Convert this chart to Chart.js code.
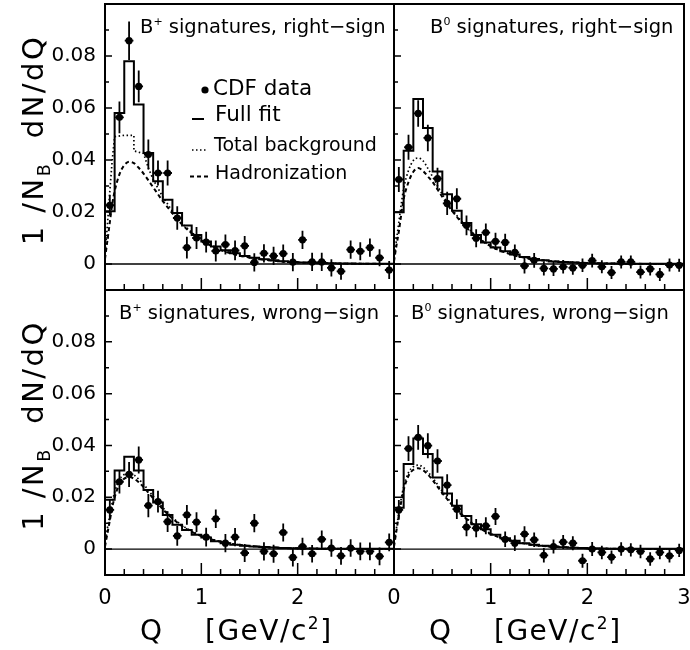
<!DOCTYPE html>
<html>
<head>
<meta charset="utf-8">
<script src="https://cdn.jsdelivr.net/npm/chart.js@4.4.1/dist/chart.umd.min.js"></script>
<style>
  html, body { margin: 0; padding: 0; background: #fff; }
  #wrap { position: relative; width: 690px; height: 650px; }
  #wrap canvas { position: absolute; left: 0; top: 0; }
</style>
</head>
<body>
<div id="wrap">
  <canvas id="c1" width="690" height="650"></canvas>
  <canvas id="c2" width="690" height="650"></canvas>
  <canvas id="c3" width="690" height="650"></canvas>
  <canvas id="c4" width="690" height="650"></canvas>
</div>
<script>
// ==========================================
// Q distributions, 0.1 GeV/c^2 bins
// ==========================================
const binCenters = [0.05, 0.15, 0.25, 0.35, 0.45, 0.55, 0.65, 0.75, 0.85, 0.95,
                    1.05, 1.15, 1.25, 1.35, 1.45, 1.55, 1.65, 1.75, 1.85, 1.95,
                    2.05, 2.15, 2.25, 2.35, 2.45, 2.55, 2.65, 2.75, 2.85, 2.95];
const binEdges = [0, 0.1, 0.2, 0.3, 0.4, 0.5, 0.6, 0.7, 0.8, 0.9, 1.0,
                  1.1, 1.2, 1.3, 1.4, 1.5, 1.6, 1.7, 1.8, 1.9, 2.0,
                  2.1, 2.2, 2.3, 2.4, 2.5, 2.6, 2.7, 2.8, 2.9, 3.0];
const curveQ = [0, 0.025, 0.05, 0.075, 0.1, 0.15, 0.2, 0.25, 0.3, 0.35, 0.4, 0.5,
                0.6, 0.7, 0.8, 0.9, 1.0, 1.2, 1.4, 1.6, 1.8, 2.0, 2.4, 3.0];

const xTickLabels = ["0", "1", "2", "3"];
const yTickLabels = ["0", "0.02", "0.04", "0.06", "0.08"];

// B+ right-sign
const bPlusRightData = [0.0226, 0.0564, 0.0859, 0.0683, 0.0421, 0.0350, 0.0350, 0.0177, 0.0063, 0.0100,
                        0.0084, 0.0050, 0.0075, 0.0052, 0.0070, 0.0006, 0.0041, 0.0031, 0.0040, 0.0007,
                        0.0093, 0.0008, 0.0008, -0.0015, -0.0028, 0.0055, 0.0049, 0.0063, 0.0024, -0.0023];
const bPlusRightErr = [0.0040, 0.0061, 0.0074, 0.0061, 0.0058, 0.0048, 0.0048, 0.0045, 0.0042, 0.0042,
                       0.0040, 0.0040, 0.0038, 0.0038, 0.0038, 0.0035, 0.0035, 0.0035, 0.0035, 0.0035,
                       0.0035, 0.0035, 0.0035, 0.0033, 0.0033, 0.0035, 0.0035, 0.0035, 0.0033, 0.0035];
const bPlusRightFit = [0.0203, 0.0581, 0.0780, 0.0613, 0.0427, 0.0318, 0.0247, 0.0196, 0.0148, 0.0112,
                       0.0087, 0.0067, 0.0053, 0.0041, 0.0031, 0.0024, 0.0018, 0.0014, 0.0011, 0.0008,
                       0.0006, 0.0005, 0.0004, 0.0003, 0.0002, 0.0002, 0.0001, 0.0001, 0.0001, 0.0001];
const bPlusRightBgQ = [0, 0.025, 0.05, 0.075, 0.1, 0.2, 0.3, 0.3, 0.4, 0.45, 0.5, 0.6,
                       0.7, 0.8, 0.9, 1.0, 1.2, 1.4, 1.6, 1.8, 2.0, 2.4, 3.0];
const bPlusRightBg = [0.003, 0.015, 0.028, 0.040, 0.049, 0.0495, 0.0495, 0.0435, 0.0425, 0.037, 0.0325, 0.0258,
                      0.0203, 0.0157, 0.0121, 0.0093, 0.0055, 0.0033, 0.0019, 0.0011, 0.0006, 0.0002, 0.0];
const bPlusRightHad = [0.002, 0.009, 0.016, 0.023, 0.028, 0.0345, 0.038, 0.0393, 0.0388, 0.037, 0.0348, 0.0295,
                       0.0242, 0.0195, 0.0152, 0.0118, 0.0091, 0.0054, 0.0032, 0.0019, 0.0011, 0.0006, 0.0002, 0.0];

// B0 right-sign
const bZeroRightData = [0.0325, 0.0449, 0.0579, 0.0485, 0.0328, 0.0233, 0.0251, 0.0149, 0.0099, 0.0121,
                        0.0087, 0.0083, 0.0045, -0.0007, 0.0014, -0.0017, -0.0019, -0.0011, -0.0015, -0.0005,
                        0.0013, -0.0011, -0.0033, 0.0008, 0.0008, -0.0031, -0.0019, -0.0040, -0.0004, -0.0005];
const bZeroRightErr = [0.0048, 0.0048, 0.0051, 0.0051, 0.0042, 0.0045, 0.0040, 0.0038, 0.0035, 0.0035,
                       0.0033, 0.0033, 0.0030, 0.0030, 0.0028, 0.0027, 0.0027, 0.0026, 0.0026, 0.0026,
                       0.0026, 0.0025, 0.0025, 0.0025, 0.0025, 0.0025, 0.0025, 0.0025, 0.0025, 0.0025];
const bZeroRightFit = [0.0199, 0.0436, 0.0635, 0.0523, 0.0356, 0.0268, 0.0205, 0.0158, 0.0112, 0.0083,
                       0.0063, 0.0049, 0.0037, 0.0027, 0.0019, 0.0014, 0.0010, 0.0008, 0.0006, 0.0004,
                       0.0003, 0.0002, 0.0002, 0.0001, 0.0001, 0.0001, 0.0001, 0.0001, 0.0001, 0.0001];
const bZeroRightBg = [0.002, 0.009, 0.016, 0.023, 0.029, 0.036, 0.0398, 0.0408, 0.0397, 0.0368, 0.0335, 0.0268,
                      0.0211, 0.0164, 0.0125, 0.0094, 0.0070, 0.0039, 0.0022, 0.0012, 0.0007, 0.0004, 0.0001, 0.0];
const bZeroRightHad = [0.001, 0.007, 0.0125, 0.019, 0.025, 0.0315, 0.0355, 0.0369, 0.0358, 0.0337, 0.0315, 0.0258,
                       0.0205, 0.0160, 0.0122, 0.0092, 0.0068, 0.0038, 0.0021, 0.0012, 0.0007, 0.0004, 0.0001, 0.0];

// B+ wrong-sign
const bPlusWrongData = [0.0151, 0.0260, 0.0288, 0.0344, 0.0168, 0.0183, 0.0106, 0.0051, 0.0132, 0.0104,
                        0.0046, 0.0117, 0.0023, 0.0046, -0.0015, 0.0100, -0.0009, -0.0018, 0.0064, -0.0032,
                        0.0010, -0.0018, 0.0038, 0.0004, -0.0026, 0.0004, -0.0009, -0.0009, -0.0028, 0.0026];
const bPlusWrongErr = [0.0040, 0.0045, 0.0048, 0.0052, 0.0045, 0.0042, 0.0040, 0.0038, 0.0038, 0.0038,
                       0.0036, 0.0036, 0.0035, 0.0035, 0.0035, 0.0035, 0.0035, 0.0035, 0.0035, 0.0035,
                       0.0034, 0.0034, 0.0034, 0.0034, 0.0034, 0.0034, 0.0034, 0.0034, 0.0034, 0.0034];
const bPlusWrongFit = [0.0190, 0.0303, 0.0356, 0.0303, 0.0228, 0.0180, 0.0132, 0.0094, 0.0074, 0.0055,
                       0.0045, 0.0030, 0.0023, 0.0017, 0.0013, 0.0010, 0.0008, 0.0006, 0.0004, 0.0003,
                       0.0002, 0.0002, 0.0001, 0.0001, 0.0001, 0.0001, 0.0001, 0.0001, 0.0001, 0.0001];
const bPlusWrongBg = [0.002, 0.008, 0.013, 0.018, 0.022, 0.0268, 0.0288, 0.0293, 0.0286, 0.027, 0.025, 0.0204,
                      0.0160, 0.0122, 0.0092, 0.0069, 0.0052, 0.0029, 0.0016, 0.0009, 0.0005, 0.0003, 0.0001, 0.0];
const bPlusWrongHad = [0.001, 0.006, 0.011, 0.016, 0.020, 0.025, 0.0272, 0.0278, 0.0272, 0.0258, 0.0239, 0.0196,
                       0.0154, 0.0118, 0.0089, 0.0067, 0.0050, 0.0028, 0.0016, 0.0009, 0.0005, 0.0003, 0.0001, 0.0];

// B0 wrong-sign
const bZeroWrongData = [0.0151, 0.0388, 0.0431, 0.0399, 0.0340, 0.0247, 0.0154, 0.0085, 0.0081, 0.0090,
                        0.0126, 0.0038, 0.0023, 0.0058, 0.0036, -0.0024, 0.0010, 0.0027, 0.0023, -0.0045,
                        0.0000, -0.0013, -0.0031, 0.0000, -0.0003, -0.0009, -0.0038, -0.0013, -0.0026, -0.0005];
const bZeroWrongErr = [0.0038, 0.0048, 0.0048, 0.0048, 0.0045, 0.0042, 0.0038, 0.0035, 0.0035, 0.0033,
                       0.0033, 0.0030, 0.0030, 0.0030, 0.0028, 0.0028, 0.0027, 0.0027, 0.0027, 0.0027,
                       0.0027, 0.0026, 0.0026, 0.0026, 0.0026, 0.0026, 0.0026, 0.0026, 0.0026, 0.0026];
const bZeroWrongFit = [0.0160, 0.0328, 0.0427, 0.0367, 0.0276, 0.0215, 0.0167, 0.0128, 0.0096, 0.0077,
                       0.0055, 0.0042, 0.0032, 0.0023, 0.0017, 0.0013, 0.0010, 0.0007, 0.0005, 0.0004,
                       0.0003, 0.0002, 0.0001, 0.0001, 0.0001, 0.0001, 0.0001, 0.0001, 0.0001, 0.0001];
const bZeroWrongBg = [0.002, 0.008, 0.014, 0.0195, 0.024, 0.0295, 0.0318, 0.0324, 0.0316, 0.0298, 0.0275, 0.0223,
                      0.0176, 0.0136, 0.0104, 0.0079, 0.0060, 0.0034, 0.0019, 0.0011, 0.0006, 0.0003, 0.0001, 0.0];
const bZeroWrongHad = [0.001, 0.007, 0.013, 0.0183, 0.0228, 0.0283, 0.0306, 0.0312, 0.0305, 0.0288, 0.0266, 0.0216,
                       0.0171, 0.0132, 0.0101, 0.0077, 0.0058, 0.0033, 0.0018, 0.0010, 0.0006, 0.0003, 0.0001, 0.0];

// ==========================================
// Layout / style
// ==========================================
const FONT = "'DejaVu Sans', 'Liberation Sans', sans-serif";
const Y_AXIS_W = 105;
const X_AXIS_H = 75;
const HALF_BIN = 0.045;

const panels = [
    { id: "c1", box: { l: 105, t: 4, r: 394, b: 290 }, showX: false, showY: true, legend: true, lastX: 2,
      data: bPlusRightData, err: bPlusRightErr, fit: bPlusRightFit,
      bgQ: bPlusRightBgQ, bg: bPlusRightBg, had: bPlusRightHad, smoothBg: false,
      label: { sup: "+", rest: " signatures, right\u2212sign", x: 140, y: 33 } },
    { id: "c2", box: { l: 394, t: 4, r: 684, b: 290 }, showX: false, showY: false, legend: false, lastX: 3,
      data: bZeroRightData, err: bZeroRightErr, fit: bZeroRightFit,
      bgQ: curveQ, bg: bZeroRightBg, had: bZeroRightHad, smoothBg: true,
      label: { sup: "0", rest: " signatures, right\u2212sign", x: 430, y: 33 } },
    { id: "c3", box: { l: 105, t: 290, r: 394, b: 575 }, showX: true, showY: true, legend: false, lastX: 2,
      data: bPlusWrongData, err: bPlusWrongErr, fit: bPlusWrongFit,
      bgQ: curveQ, bg: bPlusWrongBg, had: bPlusWrongHad, smoothBg: true,
      label: { sup: "+", rest: " signatures, wrong\u2212sign", x: 119, y: 319 } },
    { id: "c4", box: { l: 394, t: 290, r: 684, b: 575 }, showX: true, showY: false, legend: false, lastX: 3,
      data: bZeroWrongData, err: bZeroWrongErr, fit: bZeroWrongFit,
      bgQ: curveQ, bg: bZeroWrongBg, had: bZeroWrongHad, smoothBg: true,
      label: { sup: "0", rest: " signatures, wrong\u2212sign", x: 411, y: 319 } }
];

// ==========================================
// Text helpers
// ==========================================
function drawRuns(ctx, runs, x, y) {
    // runs: [{t, size, dy}] drawn left to right from (x, y)
    let cx = x;
    runs.forEach(r => {
        ctx.font = `${r.size}px ${FONT}`;
        ctx.fillText(r.t, cx, y + (r.dy || 0));
        cx += ctx.measureText(r.t).width;
    });
    return cx;
}

function runsWidth(ctx, runs) {
    let w = 0;
    runs.forEach(r => {
        ctx.font = `${r.size}px ${FONT}`;
        w += ctx.measureText(r.t).width;
    });
    return w;
}

// ==========================================
// Frame, ticks, error bars, labels
// ==========================================
const panelDecor = {
    id: "panelDecor",
    beforeDatasetsDraw(chart) {
        const { ctx, chartArea: a, scales: { y } } = chart;
        const y0 = y.getPixelForValue(0);
        ctx.save();
        ctx.strokeStyle = "#000";
        ctx.lineWidth = 1.3;
        ctx.beginPath();
        ctx.moveTo(a.left, y0);
        ctx.lineTo(a.right, y0);
        ctx.stroke();
        ctx.restore();
    },
    afterDatasetsDraw(chart, args, opts) {
        const { ctx, chartArea: a, scales: { x, y } } = chart;
        const p = opts.panel;

        // error bars
        ctx.save();
        ctx.beginPath();
        ctx.rect(a.left, a.top, a.right - a.left, a.bottom - a.top);
        ctx.clip();
        ctx.strokeStyle = "#000";
        ctx.lineWidth = 1.8;
        p.data.forEach((v, i) => {
            const q = binCenters[i];
            const e = p.err[i];
            const px = x.getPixelForValue(q);
            const py = y.getPixelForValue(v);
            ctx.beginPath();
            ctx.moveTo(px, y.getPixelForValue(v - e));
            ctx.lineTo(px, y.getPixelForValue(v + e));
            ctx.moveTo(x.getPixelForValue(q - HALF_BIN), py);
            ctx.lineTo(x.getPixelForValue(q + HALF_BIN), py);
            ctx.stroke();
        });
        ctx.restore();

        // inward tick marks
        ctx.save();
        ctx.strokeStyle = "#000";
        ctx.lineWidth = 1.5;
        ctx.beginPath();
        x.ticks.forEach(t => {
            const px = x.getPixelForValue(t.value);
            const major = Math.abs(t.value - Math.round(t.value)) < 1e-6;
            ctx.moveTo(px, a.bottom);
            ctx.lineTo(px, a.bottom - (major ? 12 : 6));
        });
        y.ticks.forEach(t => {
            const py = y.getPixelForValue(t.value);
            const major = Math.round(t.value * 100) % 2 === 0;
            ctx.moveTo(a.left, py);
            ctx.lineTo(a.left + (major ? 7 : 4), py);
        });
        ctx.stroke();

        // frame
        ctx.lineWidth = 2;
        ctx.strokeRect(a.left, a.top, a.right - a.left, a.bottom - a.top);
        ctx.restore();
    },
    afterDraw(chart, args, opts) {
        const { ctx, chartArea: a } = chart;
        const p = opts.panel;
        ctx.save();
        ctx.fillStyle = "#000";
        ctx.textBaseline = "alphabetic";
        ctx.textAlign = "left";

        // panel label, e.g. B+ signatures, right-sign
        const L = p.label;
        drawRuns(ctx, [
            { t: "B", size: 19.5 },
            { t: L.sup, size: 11, dy: -8 },
            { t: L.rest, size: 19.5 }
        ], L.x, L.y);

        if (p.legend) {
            ctx.strokeStyle = "#000";
            ctx.beginPath();
            ctx.arc(205, 90, 3.6, 0, Math.PI * 2);
            ctx.fill();
            ctx.font = `21.5px ${FONT}`;
            ctx.fillText("CDF data", 213, 95);

            ctx.lineWidth = 2;
            ctx.beginPath();
            ctx.moveTo(192, 119); ctx.lineTo(204, 119);
            ctx.stroke();
            ctx.fillText("Full fit", 215, 121);

            ctx.lineWidth = 1.6;
            ctx.setLineDash([1.5, 2.5]);
            ctx.beginPath();
            ctx.moveTo(192, 150); ctx.lineTo(207, 150);
            ctx.stroke();
            ctx.setLineDash([4, 3]);
            ctx.lineWidth = 2;
            ctx.beginPath();
            ctx.moveTo(190, 176.5); ctx.lineTo(208, 176.5);
            ctx.stroke();
            ctx.setLineDash([]);
            ctx.font = `19px ${FONT}`;
            ctx.fillText("Total background", 214, 151);
            ctx.fillText("Hadronization", 215, 179);
        }

        // y axis title: 1/N_B dN/dQ
        if (p.showY) {
            const runs = [
                { t: "1 /N", size: 29 },
                { t: "B", size: 17.5, dy: 7 },
                { t: "  dN/dQ", size: 29 }
            ];
            ctx.save();
            ctx.translate(43, (a.top + a.bottom) / 2 - 7);
            ctx.rotate(-Math.PI / 2);
            if ("letterSpacing" in ctx) ctx.letterSpacing = "2.5px";
            drawRuns(ctx, runs, -runsWidth(ctx, runs) / 2, 0);
            ctx.restore();
        }

        // x axis title: Q [GeV/c^2]
        if (p.showX) {
            if ("letterSpacing" in ctx) ctx.letterSpacing = "1.5px";
            ctx.font = `28px ${FONT}`;
            ctx.fillText("Q", a.left + 35, 640);
            drawRuns(ctx, [
                { t: "[GeV/c", size: 28 },
                { t: "2", size: 17, dy: -11 },
                { t: "]", size: 28 }
            ], a.left + 100, 640);
        }
        ctx.restore();
    }
};

// ==========================================
// Build the four panels
// ==========================================
function buildPanel(p) {
    const fitPoints = binEdges.map((e, i) => ({ x: e, y: p.fit[Math.max(i - 1, 0)] }));
    const dataPoints = binCenters.map((q, i) => ({ x: q, y: p.data[i] }));
    const bgPoints = p.bgQ.map((q, i) => ({ x: q, y: p.bg[i] }));
    const hadPoints = curveQ.map((q, i) => ({ x: q, y: p.had[i] }));

    const pad = {
        left: p.showY ? p.box.l - Y_AXIS_W : p.box.l,
        top: p.box.t,
        right: 690 - p.box.r,
        bottom: p.showX ? 650 - p.box.b - X_AXIS_H : 650 - p.box.b
    };

    return new Chart(document.getElementById(p.id), {
        type: "line",
        data: {
            datasets: [
                {
                    type: "scatter",
                    label: "CDF data",
                    data: dataPoints,
                    showLine: false,
                    pointRadius: 3.6,
                    pointBackgroundColor: "#000",
                    pointBorderWidth: 0
                },
                {
                    // each edge carries the level of the bin to its left
                    label: "Full fit",
                    data: fitPoints,
                    stepped: "after",
                    borderColor: "#000",
                    borderWidth: 2,
                    pointRadius: 0,
                    fill: false
                },
                {
                    label: "Total background",
                    data: bgPoints,
                    borderColor: "#000",
                    borderWidth: 1.7,
                    borderDash: [1.5, 2.5],
                    pointRadius: 0,
                    fill: false,
                    cubicInterpolationMode: p.smoothBg ? "monotone" : "default",
                    tension: 0
                },
                {
                    label: "Hadronization",
                    data: hadPoints,
                    borderColor: "#000",
                    borderWidth: 2,
                    borderDash: [4, 3],
                    pointRadius: 0,
                    fill: false,
                    cubicInterpolationMode: "monotone"
                }
            ]
        },
        options: {
            responsive: false,
            animation: false,
            events: [],
            layout: { padding: pad, autoPadding: false },
            plugins: {
                legend: { display: false },
                tooltip: { enabled: false },
                panelDecor: { panel: p }
            },
            scales: {
                x: {
                    type: "linear",
                    min: 0,
                    max: 3,
                    grid: { display: false, drawTicks: false },
                    border: { display: false },
                    ticks: {
                        display: p.showX,
                        stepSize: 0.2,
                        autoSkip: false,
                        maxRotation: 0,
                        padding: 11,
                        color: "#000",
                        font: { family: FONT, size: 21 },
                        callback: v => {
                            const r = Math.round(v);
                            return Math.abs(v - r) < 1e-6 && r <= p.lastX ? xTickLabels[r] : "";
                        }
                    },
                    afterFit: s => {
                        s.height = p.showX ? X_AXIS_H : 0;
                        s.paddingLeft = 0;
                        s.paddingRight = 0;
                    }
                },
                y: {
                    min: -0.01,
                    max: 0.1,
                    grid: { display: false, drawTicks: false },
                    border: { display: false },
                    ticks: {
                        display: p.showY,
                        stepSize: 0.01,
                        autoSkip: false,
                        padding: 9,
                        color: "#000",
                        font: { family: FONT, size: 20 },
                        callback: v => {
                            const k = Math.round(v * 100);
                            return k >= 0 && k % 2 === 0 && k / 2 < yTickLabels.length ? yTickLabels[k / 2] : "";
                        }
                    },
                    afterFit: s => {
                        s.width = p.showY ? Y_AXIS_W : 0;
                        s.paddingTop = 0;
                        s.paddingBottom = 0;
                    }
                }
            }
        },
        plugins: [panelDecor]
    });
}

panels.forEach(buildPanel);
</script>
</body>
</html>
